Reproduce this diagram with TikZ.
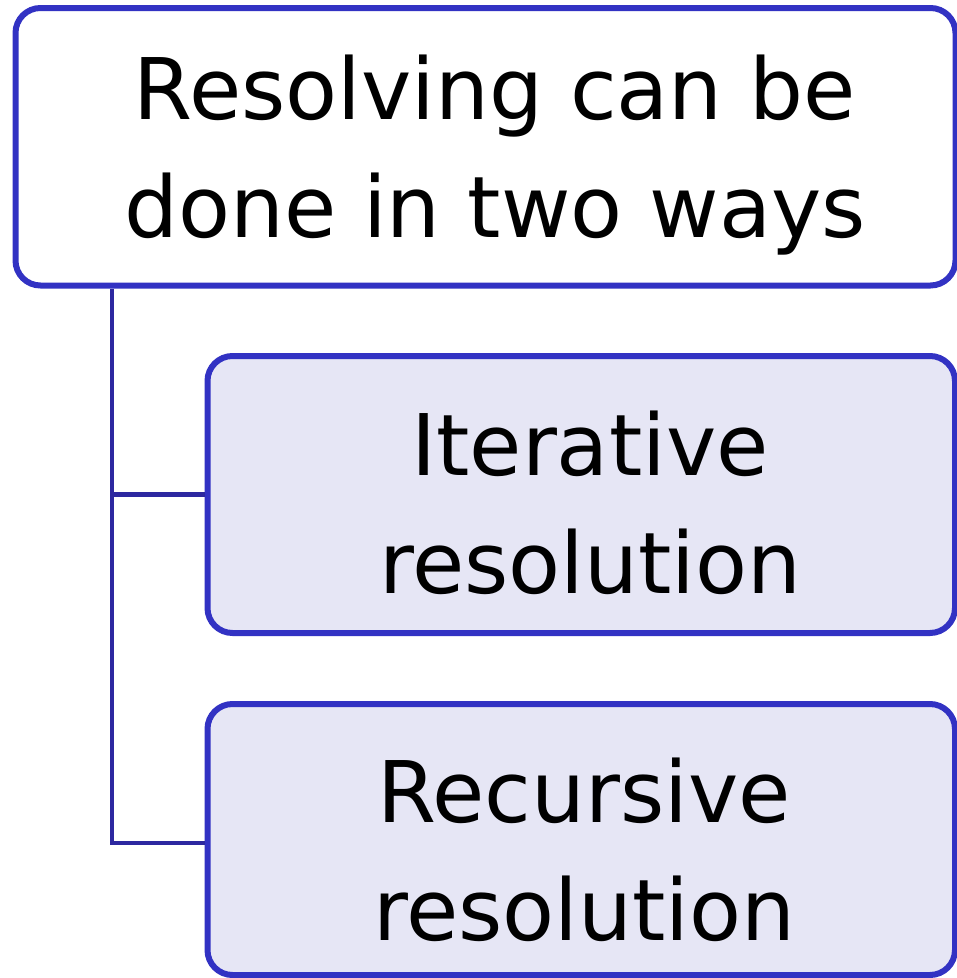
\documentclass[tikz,border=0pt]{standalone}
\usepackage{fontspec}
\setmainfont{DejaVu Sans}
\definecolor{boxline}{RGB}{50,50,195}
\definecolor{linkline}{RGB}{45,40,160}
\definecolor{boxfill}{RGB}{230,230,245}
\begin{document}
\begin{tikzpicture}[x=1pt,y=-1pt,
  basebox/.style={draw=boxline, line width=6pt, rounded corners=25pt, inner sep=0pt},
  rootbox/.style={basebox, fill=white},
  childbox/.style={basebox, fill=boxfill},
  link/.style={draw=linkline, line width=4.5pt},
  caption/.style={font=\fontsize{85}{118}\selectfont, align=center, inner sep=0pt, text=black}]
\useasboundingbox (0,0) rectangle (957,978);

% boxes
\node[rootbox, minimum width=940pt, minimum height=277.5pt] (root) at (485.5,146.75) {};
\node[childbox, minimum width=747.5pt, minimum height=277pt] (c1) at (581.25,494.5) {};
\node[childbox, minimum width=747.5pt, minimum height=271pt] (c2) at (581.25,839.5) {};

% tree connectors
\coordinate (tx) at (112,600);
\coordinate (j2) at (112,843);
\draw[link] (tx |- root.south) -- (j2) -- (j2 -| c2.west);
\draw[link] (tx |- c1.west) -- (c1.west);

% texts
\node[caption] (t0) at (495,155) {Resolving can be\\done in two ways};
\node[caption] (t1) at (590,503) {Iterative\\resolution};
\node[caption] (t2) at (584,850) {Recursive\\resolution};
\end{tikzpicture}
\end{document}
